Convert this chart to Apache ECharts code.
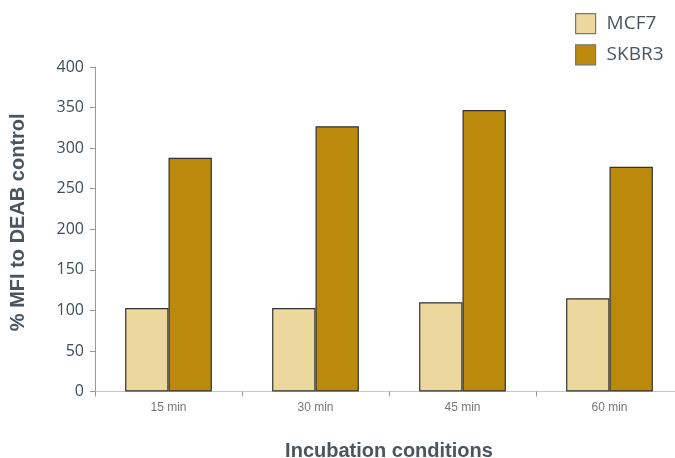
<!DOCTYPE html>
<html>
<head>
<meta charset="utf-8">
<script src="https://cdn.jsdelivr.net/npm/echarts@6/dist/echarts.min.js"></script>
<style>html,body{margin:0;padding:0;background:#fff}#c{width:675px;height:458px}</style>
</head>
<body>
<div id="c"></div>
<script>
const categories = ['15 min', '30 min', '45 min', '60 min'];
const mcf7 = [103, 103, 110, 115];
const skbr3 = [288, 327, 347, 277];

const chart = echarts.init(document.getElementById('c'), null, {renderer: 'canvas'});
chart.setOption({
  animation: false,
  legend: {
    orient: 'vertical',
    left: 570,
    top: 8,
    icon: 'rect',
    itemWidth: 20,
    itemHeight: 20,
    itemGap: 10,
    itemStyle: {borderColor: '#777', borderWidth: 1.2},
    textStyle: {fontFamily: 'Open Sans', fontSize: 19, color: '#4a5561', padding: [0, 0, 0, 6]},
    data: ['MCF7', 'SKBR3']
  },
  grid: {left: 95, right: -8, top: 67, bottom: 66.5, containLabel: false, outerBoundsMode: 'none'},
  xAxis: {
    type: 'category',
    data: categories,
    name: 'Incubation conditions',
    nameLocation: 'middle',
    nameGap: 50,
    nameTextStyle: {fontFamily: 'Liberation Sans', fontWeight: 'bold', fontSize: 20, color: '#4a5561'},
    axisLine: {lineStyle: {color: '#c8c8c8', width: 1}},
    axisTick: {show: true, length: 5, lineStyle: {color: '#999'}},
    axisLabel: {fontFamily: 'Liberation Sans', fontSize: 12, color: '#777', margin: 10}
  },
  yAxis: {
    type: 'value',
    min: 0, max: 400, interval: 50,
    name: '% MFI to DEAB control',
    nameLocation: 'middle',
    nameGap: 67,
    nameTextStyle: {fontFamily: 'Liberation Sans', fontWeight: 'bold', fontSize: 20, color: '#4a5561', padding: [0, 0, 0, 14]},
    axisLine: {show: true, lineStyle: {color: '#999', width: 1}},
    axisTick: {show: true, length: 5, lineStyle: {color: '#999'}},
    splitLine: {show: false},
    axisLabel: {fontFamily: 'Open Sans', fontSize: 16, color: '#3f4d59', margin: 11}
  },
  series: [
    {
      name: 'MCF7', type: 'bar', data: mcf7,
      barGap: '0%', barCategoryGap: '41%',
      itemStyle: {color: '#ecd89c', borderColor: '#333', borderWidth: 1.2}
    },
    {
      name: 'SKBR3', type: 'bar', data: skbr3,
      itemStyle: {color: '#bb8a0c', borderColor: '#333', borderWidth: 1.2}
    }
  ]
});
</script>
</body>
</html>
